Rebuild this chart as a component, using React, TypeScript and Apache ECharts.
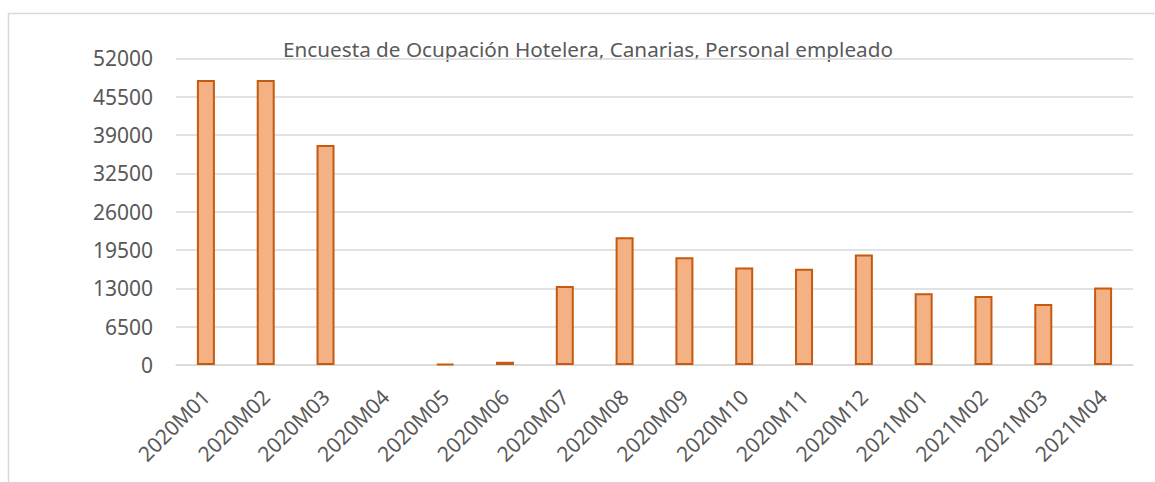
import React, { useEffect, useRef } from "react";
import * as echarts from "echarts";

const categories = [
  "2020M01", "2020M02", "2020M03", "2020M04", "2020M05", "2020M06", "2020M07", "2020M08",
  "2020M09", "2020M10", "2020M11", "2020M12", "2021M01", "2021M02", "2021M03", "2021M04",
];
const personalEmpleado = [
  48300, 48300, 37300, 0, 200, 550, 13400, 21650,
  18250, 16550, 16300, 18750, 12150, 11700, 10350, 13150,
];
const yTicks = { min: 0, max: 52000, interval: 6500 };
const titleText = "Encuesta de Ocupación Hotelera, Canarias, Personal empleado";

export default function App() {
  const ref = useRef<HTMLDivElement>(null);
  useEffect(() => {
    document.body.style.margin = "0";
    if (!ref.current) return;
    const chart = echarts.init(ref.current, null, { renderer: "svg" });
    const font = "'Noto Sans', sans-serif";
    chart.setOption({
      animation: false,
      backgroundColor: "#ffffff",
      graphic: [
        {
          type: "rect",
          shape: { x: 8.5, y: 13.5, width: 1200, height: 520 },
          style: { fill: "none", stroke: "#d9d9d9", lineWidth: 1.5 },
          silent: true,
        },
        {
          type: "text",
          x: 588,
          y: 49,
          style: {
            text: titleText,
            fill: "#595959",
            font: `20.7px ${font}`,
            align: "center",
            verticalAlign: "middle",
          },
        },
      ],
      grid: { left: 176, right: 22, top: 58.3, bottom: 117, containLabel: false },
      xAxis: {
        type: "category",
        data: categories,
        axisLine: { show: true, lineStyle: { color: "#d9d9d9", width: 1.5 } },
        axisTick: { show: false },
        axisLabel: {
          rotate: 45,
          margin: 28,
          color: "#595959",
          fontSize: 21,
          fontFamily: font,
          interval: 0,
        },
      },
      yAxis: {
        type: "value",
        min: yTicks.min,
        max: yTicks.max,
        interval: yTicks.interval,
        axisLine: { show: false },
        axisTick: { show: false },
        axisLabel: {
          margin: 23,
          color: "#595959",
          fontSize: 21,
          fontFamily: font,
          formatter: (v: number) => String(v),
        },
        splitLine: { lineStyle: { color: "#d9d9d9", width: 1.5 } },
      },
      series: [
        {
          type: "bar",
          data: personalEmpleado.map((v) =>
            v === 0 ? { value: v, itemStyle: { borderWidth: 0 } } : v
          ),
          barWidth: 18,
          itemStyle: { color: "#F4B183", borderColor: "#C55A11", borderWidth: 2 },
        },
      ],
    });
    return () => chart.dispose();
  }, []);
  return <div ref={ref} style={{ width: 1155, height: 482 }} />;
}
